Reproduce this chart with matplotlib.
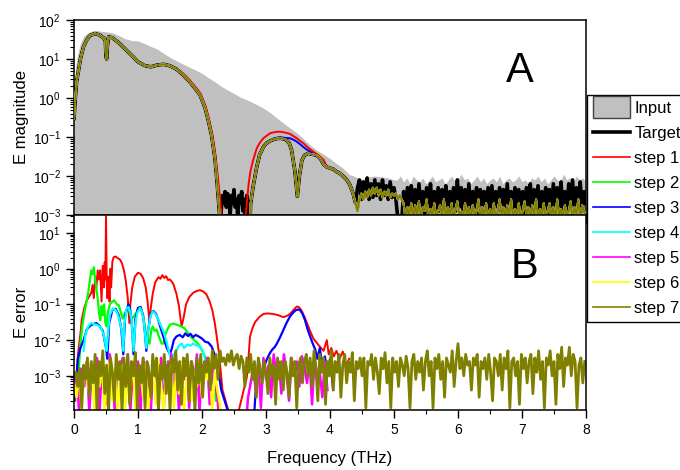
import numpy as np
import matplotlib
matplotlib.use('Agg')
import matplotlib.pyplot as plt
from matplotlib.patches import Rectangle, Patch
from matplotlib.lines import Line2D
from matplotlib.legend_handler import HandlerPatch
from matplotlib.ticker import LogLocator, MultipleLocator, NullFormatter

plt.rcParams['font.family'] = ['Liberation Sans', 'DejaVu Sans']

# ------------------------------------------------------------------ data
# ---- panel A: input spectrum (grey area)
input_f = [0.0, 0.02, 0.05, 0.1, 0.15, 0.2, 0.25, 0.3, 0.35, 0.4, 0.5, 0.6, 0.7, 0.8,
           0.9, 1.0, 1.1, 1.2, 1.3, 1.4, 1.5, 1.6, 1.7, 1.8, 1.9, 2.0, 2.1, 2.2, 2.3,
           2.4, 2.5, 2.6, 2.7, 2.8, 2.9, 3.0, 3.1, 3.2, 3.3, 3.4, 3.5, 3.6, 3.7, 3.8,
           3.9, 4.0, 4.1, 4.2, 4.3, 4.4, 4.5, 4.6, 4.7, 4.8, 4.9, 5.0]
input_v = [1.5, 5, 12, 25, 38, 45, 50, 53, 54, 52, 50, 47, 40, 33,
           30, 29, 25, 21, 18, 14, 11, 9, 7.5, 6.2, 5.2, 4.3, 3.3, 2.6, 2.0,
           1.6, 1.3, 1.05, 0.9, 0.75, 0.62, 0.5, 0.38, 0.28, 0.21, 0.16, 0.12, 0.085, 0.06, 0.045,
           0.036, 0.028, 0.021, 0.016, 0.011, 0.0095, 0.008, 0.0095, 0.01, 0.0095, 0.009, 0.008]
input_noise_start, input_noise_step = 5.05, 0.05
input_noise_log = [-2.1, -2.0, -2.15, -2.05, -2.2, -2.0, -2.1, -2.15, -2.05, -2.2,
                   -2.1, -2.0, -2.15, -2.1, -2.05, -2.2, -2.1, -2.0, -2.15, -2.1,
                   -1.95, -2.1, -2.05, -2.2, -2.1, -2.0, -2.15, -2.05, -2.2, -2.1,
                   -2.05, -2.15, -2.0, -2.2, -2.1, -2.05, -2.15, -2.1, -2.0, -2.15,
                   -2.1, -2.2, -2.05, -2.1, -2.0, -2.15, -2.05, -2.2, -2.1, -2.0,
                   -2.1, -2.15, -1.95, -2.1, -2.05, -2.15, -2.0, -2.1, -2.05, -2.15]

# ---- panel A: reconstructed / target magnitude, smooth parts
fit1_f = [0.0, 0.02, 0.04, 0.07, 0.1, 0.15, 0.2, 0.25, 0.33, 0.4, 0.46, 0.49, 0.5,
          0.51, 0.52, 0.54, 0.6, 0.7, 0.8, 0.9, 1.0, 1.1, 1.2, 1.3, 1.4, 1.5, 1.6]
fit1_v = [0.3, 1.0, 2.6, 5, 10, 21, 31, 40, 45, 41, 35, 30, 12,
          10, 20, 37, 35, 26, 18, 12.5, 8.5, 6.8, 6.3, 7.0, 7.3, 6.7, 5.5]
fit1b_f = [1.7, 1.8, 1.9, 1.97, 2.05, 2.1, 2.15, 2.2, 2.23, 2.26, 2.28, 2.3]
fit1b_v = [4.0, 2.7, 1.7, 1.2, 0.55, 0.26, 0.11, 0.03, 0.009, 0.002, 0.0008, 0.0001]
red1b_f = [1.7, 1.8, 1.9, 1.97, 2.05, 2.1, 2.15, 2.2, 2.23, 2.26, 2.28, 2.3, 2.32, 2.34]
red1b_v = [4.3, 2.95, 1.9, 1.35, 0.65, 0.33, 0.14, 0.045, 0.017, 0.006, 0.0028, 0.0012, 0.0005, 0.0001]
fit2_f = [2.74, 2.76, 2.8, 2.855, 2.9, 2.96, 3.0, 3.06, 3.15, 3.22, 3.3, 3.36, 3.4, 3.45,
          3.49, 3.52, 3.56, 3.6, 3.66, 3.72, 3.79, 3.85, 3.9]
fit2_v = [0.0003, 0.002, 0.0055, 0.017, 0.035, 0.056, 0.068, 0.079, 0.09, 0.093, 0.088, 0.072, 0.046, 0.014,
          0.003, 0.0095, 0.025, 0.034, 0.038, 0.036, 0.034, 0.028, 0.02]
blue2_f = [2.74, 2.76, 2.8, 2.855, 2.9, 2.96, 3.0, 3.06, 3.15, 3.22, 3.3, 3.375, 3.43, 3.48,
           3.53, 3.58, 3.64, 3.69, 3.75, 3.82, 3.9]
blue2_v = [0.0003, 0.002, 0.0055, 0.017, 0.035, 0.056, 0.068, 0.08, 0.094, 0.098, 0.095, 0.093, 0.085, 0.076,
           0.066, 0.056, 0.047, 0.042, 0.036, 0.03, 0.022]
red2_f = [2.66, 2.70, 2.73, 2.76, 2.80, 2.855, 2.9, 2.96, 3.06, 3.15, 3.22, 3.3, 3.375, 3.43,
          3.48, 3.53, 3.58, 3.66, 3.74, 3.82, 3.9]
red2_v = [0.0003, 0.002, 0.0065, 0.014, 0.026, 0.051, 0.07, 0.093, 0.124, 0.135, 0.137, 0.13, 0.12, 0.105,
          0.093, 0.08, 0.07, 0.053, 0.042, 0.034, 0.026]
fit3_f = [3.95, 4.0, 4.05, 4.1, 4.15, 4.2, 4.26, 4.31, 4.36, 4.4]
fit3_v = [0.017, 0.016, 0.015, 0.013, 0.0118, 0.01, 0.008, 0.006, 0.0036, 0.002]

# ---- panel A: noisy parts (log10 values)
targetA_start, targetA_step = 2.30, 0.02
targetA_log = [-2.9, -2.5, -2.7, -2.4, -2.8, -2.45, -2.6, -3.0, -2.5, -2.7, -2.35, -2.8,
               -2.6, -3.1, -2.5, -2.7, -2.4, -2.9, -2.6, -3.2, -2.5, -2.8, -3.3]
noiseB_start, noiseB_step = 4.43, 0.03
targetB_log = [-2.3, -2.1, -2.6, -2.15, -2.5, -2.05, -2.6, -2.2, -2.55, -2.1,
               -2.5, -2.2, -2.6, -2.1, -2.5, -2.25, -2.6, -2.15, -2.55, -2.3,
               -2.6, -3.1, -3.4, -3.2, -2.4, -2.85, -2.3, -2.9, -2.25, -2.8,
               -2.35, -2.9, -2.2, -2.85, -2.4, -2.95, -2.3, -2.8, -2.2, -2.9,
               -2.4, -2.85, -2.3, -2.9, -2.35, -2.8, -2.25, -2.95, -2.4, -2.85,
               -2.3, -2.9, -2.1, -2.8, -2.3, -2.9, -2.35, -2.85, -2.2, -2.9,
               -2.4, -2.8, -2.3, -2.95, -2.35, -2.85, -2.4, -2.9, -2.3, -2.85,
               -2.25, -2.9, -2.4, -2.8, -2.3, -2.95, -2.35, -2.85, -2.2, -2.9,
               -2.4, -2.8, -2.3, -2.9, -2.35, -2.85, -2.4, -2.95, -2.3, -2.8,
               -2.2, -2.9, -2.35, -2.85, -2.25, -2.9, -2.4, -2.8, -2.3, -2.95,
               -2.35, -2.85, -2.2, -2.9, -2.3, -2.8, -2.15, -2.9, -2.4, -2.85,
               -2.2, -2.85, -2.1, -2.9, -2.3, -2.8, -2.15, -2.9, -2.4, -2.7]
stepB_log = [-2.9, -2.6, -2.45, -2.6, -2.4, -2.55, -2.35, -2.5, -2.3, -2.45,
             -2.3, -2.5, -2.35, -2.55, -2.4, -2.5, -2.35, -2.55, -2.45, -2.5,
             -2.45, -2.6, -2.5, -2.6, -2.7, -3.1, -2.8, -3.0, -2.7, -3.1,
             -2.75, -3.0, -2.65, -3.1, -2.8, -2.9, -2.6, -3.1, -2.85, -3.0,
             -2.7, -3.1, -2.9, -2.75, -3.0, -2.6, -3.1, -2.8, -3.0, -2.7,
             -3.1, -2.85, -2.65, -3.0, -2.9, -3.1, -2.7, -3.0, -2.8, -3.1,
             -2.75, -3.0, -2.9, -2.6, -3.1, -2.8, -3.0, -2.7, -3.1, -2.85,
             -3.0, -2.7, -3.1, -2.9, -2.6, -3.0, -2.8, -3.1, -2.75, -3.0,
             -2.6, -3.1, -2.85, -3.0, -2.7, -3.1, -2.9, -2.65, -3.0, -2.8,
             -3.1, -2.75, -3.0, -2.6, -3.1, -2.85, -3.0, -2.7, -3.1, -2.9,
             -2.7, -3.0, -2.8, -3.1, -2.6, -3.0, -2.85, -3.1, -2.75, -3.0,
             -2.9, -2.65, -3.1, -2.8, -3.0, -2.6, -3.1, -2.75, -2.9, -3.0]

# ---- panel B: error of each step
err1_f = [0.02, 0.05, 0.07, 0.1, 0.12, 0.16, 0.2, 0.24, 0.27, 0.29, 0.31, 0.33, 0.35, 0.37,
          0.39, 0.41, 0.43, 0.45, 0.47, 0.48, 0.49, 0.5, 0.51, 0.52, 0.54, 0.555, 0.57, 0.58,
          0.6, 0.62, 0.65, 0.68, 0.72, 0.75, 0.78, 0.81, 0.84, 0.865, 0.88, 0.91, 0.95, 1.0,
          1.04, 1.08, 1.12, 1.15, 1.18, 1.2, 1.23, 1.27, 1.32, 1.35, 1.38, 1.41, 1.44, 1.47,
          1.5, 1.55, 1.6, 1.64, 1.68, 1.71, 1.75, 1.8, 1.86, 1.92, 1.97, 2.02, 2.07, 2.12,
          2.16, 2.2, 2.23, 2.26, 2.29, 2.32, 2.5, 2.7, 2.73, 2.75, 2.79, 2.83, 2.9, 2.96,
          3.03, 3.11, 3.19, 3.27, 3.33, 3.38, 3.43, 3.48, 3.51, 3.55, 3.6, 3.64, 3.69, 3.74,
          3.79, 3.84, 3.9, 3.95, 3.98, 4.02, 4.06, 4.1, 4.15, 4.2, 4.25, 4.3]
err1_v = [0.0002, 0.002, 0.0054, 0.015, 0.036, 0.08, 0.13, 0.17, 0.21, 0.35, 0.15, 0.6, 0.3, 0.9,
          0.5, 0.9, 0.12, 1.2, 0.3, 1.5, 0.5, 30, 0.8, 0.15, 0.6, 0.12, 1.0, 0.3,
          1.6, 2.1, 2.2, 2.0, 1.8, 1.4, 0.9, 0.45, 0.15, 0.03, 0.1, 0.3, 0.6, 0.77,
          0.72, 0.55, 0.3, 0.12, 0.03, 0.08, 0.2, 0.42, 0.58, 0.52, 0.66, 0.55, 0.62, 0.48,
          0.5, 0.38, 0.2, 0.09, 0.024, 0.04, 0.1, 0.16, 0.21, 0.24, 0.25, 0.23, 0.19, 0.12,
          0.07, 0.03, 0.0126, 0.005, 0.0015, 0.0004, 0.00003, 0.0009, 0.004, 0.0126, 0.022, 0.032, 0.045, 0.054,
          0.056, 0.054, 0.05, 0.044, 0.048, 0.055, 0.07, 0.087, 0.085, 0.07, 0.045, 0.03, 0.018, 0.011,
          0.0085, 0.0066, 0.005, 0.01, 0.004, 0.006, 0.0035, 0.005, 0.003, 0.0048, 0.002, 0.003]
err2_f = [0.0, 0.05, 0.08, 0.1, 0.13, 0.17, 0.2, 0.22, 0.25, 0.27, 0.29, 0.31, 0.33, 0.35,
          0.37, 0.39, 0.41, 0.43, 0.45, 0.47, 0.49, 0.51, 0.53, 0.56, 0.6, 0.63, 0.67, 0.7,
          0.73, 0.76, 0.8, 0.85, 0.9, 0.95, 1.0, 1.05, 1.1, 1.14, 1.18, 1.21, 1.23, 1.26,
          1.29, 1.33, 1.37, 1.4, 1.43, 1.46, 1.5, 1.55, 1.6, 1.66, 1.72, 1.77, 1.82, 1.88,
          1.93, 1.98, 2.03, 2.07, 2.1, 2.14, 2.18, 2.22]
err2_v = [0.0002, 0.0005, 0.002, 0.008, 0.025, 0.07, 0.13, 0.2, 0.5, 0.9, 0.7, 1.1, 0.5, 0.27,
          0.15, 0.06, 0.036, 0.09, 0.05, 0.1, 0.03, 0.024, 0.06, 0.1, 0.12, 0.13, 0.1, 0.095,
          0.06, 0.04, 0.06, 0.08, 0.04, 0.05, 0.07, 0.075, 0.03, 0.01, 0.008, 0.02, 0.024, 0.018,
          0.02, 0.012, 0.008, 0.008, 0.015, 0.02, 0.027, 0.029, 0.027, 0.025, 0.022, 0.017, 0.0126, 0.01,
          0.0083, 0.006, 0.004, 0.003, 0.002, 0.001, 0.0006, 0.0002]
err3_f = [0.0, 0.03, 0.06, 0.1, 0.15, 0.2, 0.25, 0.3, 0.35, 0.4, 0.45, 0.5, 0.52, 0.55,
          0.6, 0.65, 0.7, 0.74, 0.77, 0.8, 0.85, 0.88, 0.91, 0.93, 0.96, 1.0, 1.04, 1.08,
          1.11, 1.13, 1.16, 1.2, 1.24, 1.28, 1.32, 1.36, 1.4, 1.45, 1.5, 1.53, 1.56, 1.6,
          1.65, 1.7, 1.74, 1.78, 1.82, 1.86, 1.9, 1.95, 2.0, 2.05, 2.1, 2.15, 2.2, 2.25,
          2.3, 2.5, 2.8, 2.85, 2.92, 2.96, 3.01, 3.06, 3.1, 3.14, 3.17, 3.22, 3.27, 3.32,
          3.375, 3.42, 3.46, 3.5, 3.53, 3.57, 3.61, 3.65, 3.69, 3.73, 3.77, 3.8, 3.84, 3.88,
          3.92, 3.96, 4.0, 4.05]
err3_v = [0.0002, 0.0005, 0.003, 0.006, 0.01, 0.02, 0.025, 0.028, 0.03, 0.025, 0.018, 0.006, 0.003, 0.03,
          0.07, 0.075, 0.05, 0.02, 0.004, 0.05, 0.1, 0.07, 0.02, 0.004, 0.04, 0.08, 0.085, 0.05,
          0.015, 0.005, 0.02, 0.055, 0.065, 0.055, 0.035, 0.02, 0.012, 0.006, 0.004, 0.006, 0.01, 0.0126,
          0.014, 0.012, 0.0155, 0.013, 0.015, 0.012, 0.014, 0.0126, 0.011, 0.009, 0.0085, 0.0066, 0.0038, 0.0016,
          0.0004, 0.00003, 0.00003, 0.0008, 0.0012, 0.0016, 0.0028, 0.0043, 0.0055, 0.0065, 0.008, 0.012, 0.019, 0.03,
          0.046, 0.058, 0.068, 0.072, 0.07, 0.055, 0.036, 0.02, 0.0126, 0.008, 0.0054, 0.003, 0.006, 0.002,
          0.0035, 0.0012, 0.003, 0.0004]
err4_f = [0.15, 0.18, 0.22, 0.27, 0.31, 0.35, 0.41, 0.46, 0.49, 0.51, 0.53, 0.56, 0.61, 0.65,
          0.69, 0.73, 0.75, 0.77, 0.79, 0.82, 0.85, 0.88, 0.9, 0.93, 0.96, 0.99, 1.03, 1.06,
          1.09, 1.11, 1.13, 1.16, 1.2, 1.23, 1.27, 1.31, 1.36, 1.4, 1.44, 1.48, 1.52, 1.56,
          1.6, 1.64, 1.68, 1.72, 1.77, 1.82, 1.86, 1.92, 1.97, 2.01, 2.05, 2.09, 2.13, 2.17]
err4_v = [0.005, 0.015, 0.024, 0.03, 0.028, 0.027, 0.024, 0.015, 0.008, 0.005, 0.015, 0.05, 0.078, 0.07,
          0.05, 0.025, 0.017, 0.005, 0.03, 0.075, 0.085, 0.06, 0.036, 0.005, 0.03, 0.06, 0.08, 0.065,
          0.035, 0.015, 0.006, 0.02, 0.05, 0.063, 0.055, 0.04, 0.025, 0.017, 0.01, 0.005, 0.003, 0.004,
          0.005, 0.007, 0.008, 0.006, 0.0075, 0.007, 0.008, 0.007, 0.0066, 0.005, 0.003, 0.0015, 0.0006, 0.0002]
err5_start, err5_step = 0.0, 0.04
err5_log = [-3.5, -3.0, -4.0, -2.8, -3.3, -2.6, -4.0, -2.7, -3.1, -2.5,
            -4.0, -2.6, -2.9, -3.8, -2.4, -3.2, -4.0, -2.6, -3.0, -2.5,
            -3.6, -2.4, -4.0, -2.8, -3.1, -2.6, -4.0, -2.5, -3.3, -2.7,
            -4.0, -2.6, -2.9, -3.5, -2.5, -4.0, -2.7, -3.0, -2.4, -3.7,
            -2.6, -4.0, -2.8, -3.1, -2.5, -3.9, -2.6, -3.3, -2.4, -4.0,
            -2.7, -3.0, -2.5, -3.8, -2.8, -3.2, -3.6, -4.5, -4.5, -4.5,
            -4.5, -4.5, -4.5, -4.5, -4.5, -4.5, -4.5, -4.5, -3.6, -3.2,
            -2.8, -3.4, -2.6, -3.9, -2.5, -3.1, -2.7, -3.6, -2.4, -3.0,
            -2.6, -3.5, -2.4, -2.9, -3.7, -2.5, -3.0, -2.6, -3.3, -2.45,
            -2.7, -3.2, -2.6, -3.8, -2.5, -3.0, -2.9, -3.6, -2.6, -3.4]
err6_start, err6_step = 0.0, 0.04
err6_log = [-3.2, -3.6, -2.9, -4.0, -2.7, -3.1, -3.5, -2.6, -4.0, -2.9,
            -3.3, -2.7, -4.0, -3.0, -2.6, -3.7, -2.8, -4.0, -3.1, -2.7,
            -3.9, -2.9, -3.3, -2.6, -4.0, -3.0, -2.8, -3.6, -2.7, -4.0,
            -3.0, -2.8, -3.8, -2.6, -3.2, -4.0, -2.9, -3.4, -2.7, -3.9,
            -2.8, -3.5, -2.6, -4.0, -3.0, -2.7, -3.7, -2.9, -3.3, -2.6,
            -3.6, -2.8, -3.1, -2.6, -4.0, -2.9, -3.4, -3.8, -4.5, -4.5]
err7_start, err7_step = 0.0, 0.03
err7_log = [-3.0, -2.9, -3.3, -2.8, -3.9, -2.7, -3.1, -2.5, -3.6, -2.6,
            -3.2, -2.4, -4.0, -2.6, -3.0, -2.3, -3.5, -2.7, -4.0, -2.5,
            -2.9, -3.7, -2.4, -3.1, -2.6, -4.0, -2.5, -3.3, -2.4, -3.8,
            -2.6, -3.0, -2.35, -4.0, -2.7, -3.2, -2.5, -3.9, -2.6, -2.9,
            -3.6, -2.4, -3.0, -2.5, -4.0, -2.7, -3.1, -2.4, -3.5, -2.6,
            -4.0, -2.5, -2.9, -2.3, -3.4, -2.6, -3.8, -2.5, -3.0, -2.4,
            -3.7, -2.6, -2.8, -4.0, -2.5, -3.2, -2.4, -3.6, -2.6, -2.9,
            -2.5, -3.4, -2.3, -2.8, -2.4, -3.1, -2.3, -2.6, -2.5, -2.7,
            -2.4, -2.6, -2.3, -2.7, -2.5, -2.4, -2.8, -2.45, -2.6, -3.3,
            -2.5, -2.9, -2.4, -3.1, -2.6, -3.6, -2.5, -2.8, -3.2, -2.6,
            -2.9, -3.5, -2.5, -3.0, -2.7, -3.8, -2.5, -3.1, -2.6, -3.4,
            -2.6, -2.9, -3.6, -2.5, -3.0, -2.6, -3.9, -2.7, -2.5, -3.2,
            -2.6, -2.4, -3.0, -2.5, -3.3, -2.3, -2.8, -3.7, -2.4, -2.9,
            -2.5, -3.8, -2.6, -3.0, -2.3, -3.4, -2.6, -2.9, -2.4, -3.6,
            -2.7, -2.4, -3.2, -2.6, -2.9, -2.35, -3.7, -2.6, -2.8, -2.5,
            -3.0, -2.5, -3.9, -2.6, -2.7, -2.4, -3.1, -2.5, -2.9, -3.5,
            -2.5, -2.8, -2.35, -3.2, -2.6, -3.9, -2.5, -2.9, -2.6, -3.3,
            -2.5, -2.7, -3.0, -2.45, -2.8, -3.9, -2.6, -2.4, -3.1, -2.6,
            -2.9, -2.5, -3.4, -2.6, -2.3, -3.0, -2.6, -3.9, -2.5, -2.8,
            -2.4, -3.1, -2.6, -3.6, -2.5, -2.7, -2.9, -2.3, -3.3, -2.6,
            -2.1, -2.8, -2.5, -3.0, -2.4, -2.7, -2.6, -3.4, -2.5, -2.7,
            -2.4, -3.6, -2.6, -2.8, -2.5, -3.1, -2.4, -2.9, -3.7, -2.5,
            -2.6, -3.0, -2.4, -3.4, -2.5, -2.8, -2.3, -3.9, -2.6, -2.5,
            -3.0, -2.6, -3.8, -2.4, -2.8, -2.5, -3.2, -2.6, -2.4, -3.5,
            -2.5, -2.9, -2.3, -3.1, -2.6, -3.9, -2.5, -2.7, -2.3, -3.0,
            -2.6, -3.8, -2.4, -2.8, -2.2, -3.3, -2.5, -2.7, -2.2, -3.0,
            -2.4, -2.6, -3.9, -2.7, -2.5, -3.2, -2.6]

labels = ['Input', 'Target', 'step 1', 'step 2', 'step 3', 'step 4', 'step 5', 'step 6', 'step 7']
step_colors = ['#ff0000', '#00ff00', '#0000ff', '#00ffff', '#ff00ff', '#ffff00', '#808000']


# ------------------------------------------------------------------ helpers
def grid(start, step, n):
    return np.round(start + step * np.arange(n), 4)


def cat(*pairs):
    fs = np.concatenate([np.asarray(p[0], float) for p in pairs])
    vs = np.concatenate([np.asarray(p[1], float) for p in pairs])
    return fs, vs


inF, inV = cat((input_f, input_v),
               (grid(input_noise_start, input_noise_step, len(input_noise_log)), 10 ** np.array(input_noise_log)))
nA = grid(targetA_start, targetA_step, len(targetA_log))
nB = grid(noiseB_start, noiseB_step, len(targetB_log))
gap = ([2.32, 2.72], [1e-4, 1e-4])

tgtF, tgtV = cat((fit1_f, fit1_v), (fit1b_f, fit1b_v), (nA, 10 ** np.array(targetA_log)),
                 (fit2_f, fit2_v), (fit3_f, fit3_v), (nB, 10 ** np.array(targetB_log)))
s7F, s7V = cat((fit1_f, fit1_v), (fit1b_f, fit1b_v), gap,
               (fit2_f, fit2_v), (fit3_f, fit3_v), (nB, 10 ** np.array(stepB_log)))
s1F, s1V = cat((fit1_f, fit1_v), (red1b_f, red1b_v), ([2.5], [1e-4]),
               (red2_f, red2_v), (fit3_f, fit3_v), (nB, 10 ** np.array(stepB_log)))
s3F, s3V = cat((fit1_f, fit1_v), (fit1b_f, fit1b_v), gap,
               (blue2_f, blue2_v), (fit3_f, fit3_v), (nB, 10 ** np.array(stepB_log)))
top_steps = [(s1F, s1V), (s7F, s7V), (s3F, s3V), (s7F, s7V), (s7F, s7V), (s7F, s7V), (s7F, s7V)]

bottom_steps = [
    (np.array(err1_f), np.array(err1_v)),
    (np.array(err2_f), np.array(err2_v)),
    (np.array(err3_f), np.array(err3_v)),
    (np.array(err4_f), np.array(err4_v)),
    (grid(err5_start, err5_step, len(err5_log)), 10 ** np.array(err5_log)),
    (grid(err6_start, err6_step, len(err6_log)), 10 ** np.array(err6_log)),
    (grid(err7_start, err7_step, len(err7_log)), 10 ** np.array(err7_log)),
]
bottom_lw = [1.4, 1.6, 1.6, 1.6, 1.8, 1.8, 2.0]

# ------------------------------------------------------------------ figure
W, H = 680, 470
fig = plt.figure(figsize=(W / 100, H / 100), dpi=100)
L, R = 74 / W, 586 / W
axA = fig.add_axes([L, 1 - 215 / H, R - L, 195 / H])
axB = fig.add_axes([L, 1 - 410 / H, R - L, 195 / H], sharex=axA)

axA.fill_between(inF, 1e-4, inV, color='#c0c0c0', linewidth=0, zorder=1)
axA.plot(tgtF, tgtV, color='black', lw=2.6, zorder=2)
for (f, v), c in zip(top_steps, step_colors):
    axA.plot(f, v, color=c, lw=1.4, zorder=3)

for (f, v), c, lw in zip(bottom_steps, step_colors, bottom_lw):
    axB.plot(f, v, color=c, lw=lw)

axA.set_yscale('log')
axB.set_yscale('log')
axA.set_ylim(1e-3, 1e2)
axB.set_ylim(1.1e-4, 32)
axA.set_xlim(0, 8)

for ax in (axA, axB):
    ax.xaxis.set_major_locator(MultipleLocator(1))
    ax.xaxis.set_minor_locator(MultipleLocator(0.5))
    ax.yaxis.set_major_locator(LogLocator(base=10, numticks=10))
    ax.yaxis.set_minor_locator(LogLocator(base=10, subs=np.arange(2, 10), numticks=10))
    ax.yaxis.set_minor_formatter(NullFormatter())
    ax.tick_params(which='both', direction='out', top=False, right=False, labelsize=10)
    ax.tick_params(which='major', length=6, width=1)
    ax.tick_params(which='minor', length=3, width=0.8)
    for s in ax.spines.values():
        s.set_linewidth(1.1)
axA.tick_params(axis='x', labelbottom=False)
axA.set_ylabel('E magnitude', fontsize=12)
axB.set_ylabel('E error', fontsize=12)
axB.set_xlabel('Frequency (THz)', fontsize=12, labelpad=10)
axA.yaxis.set_label_coords(-0.088, 0.5)
axB.yaxis.set_label_coords(-0.088, 0.5)

fig.text(520 / W, 1 - 82 / H, 'A', fontsize=30, ha='center', va='baseline')
fig.text(525 / W, 1 - 278 / H, 'B', fontsize=30, ha='center', va='baseline')

# legend
input_handle = Patch(facecolor='#c0c0c0', edgecolor='#404040', linewidth=1)
handles = [input_handle, Line2D([], [], color='black', lw=2.6)] + \
          [Line2D([], [], color=c, lw=1.2) for c in step_colors]


def tall_patch(legend, orig_handle, xdescent, ydescent, width, height, fontsize):
    return Rectangle((-xdescent, -ydescent - 0.45 * height), width, 1.9 * height)


leg = fig.legend(handles, labels, loc='upper left', bbox_to_anchor=(587 / W, 1 - 95 / H),
                 bbox_transform=fig.transFigure, frameon=True, fancybox=False, shadow=False,
                 edgecolor='black', framealpha=1, fontsize=12, handlelength=2.2,
                 handletextpad=0.3, borderpad=0.35, borderaxespad=0, labelspacing=0.6,
                 handler_map={input_handle: HandlerPatch(patch_func=tall_patch)})
leg.get_frame().set_linewidth(1.0)

fig.savefig('out.png', dpi=100)
